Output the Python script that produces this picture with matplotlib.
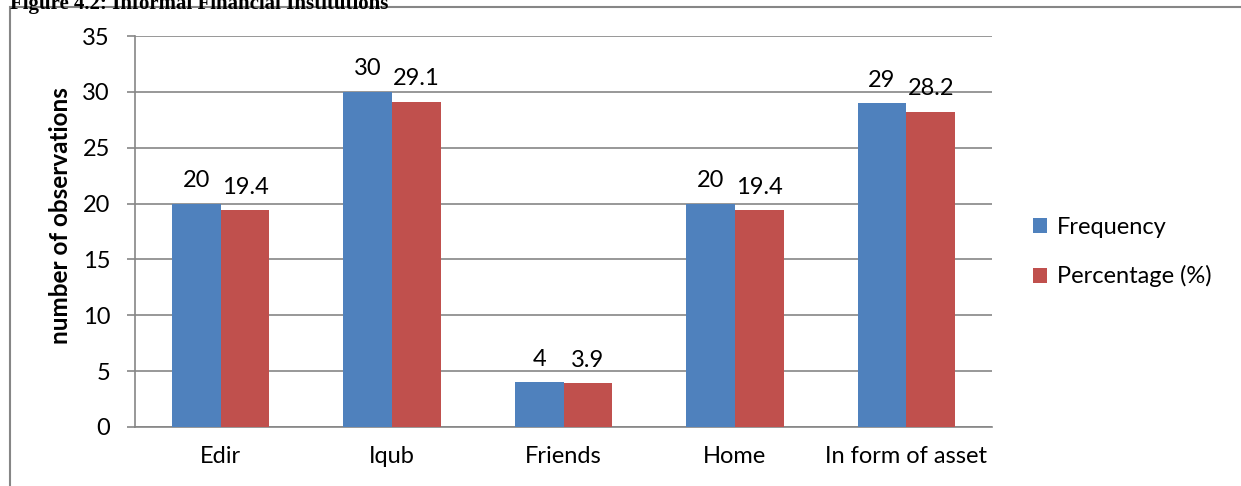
import numpy as np
import matplotlib.pyplot as plt
from matplotlib.patches import Rectangle

# Datos del gráfico
categorias = ['Edir', 'Iqub', 'Friends', 'Home', 'In form of asset']
frecuencia = [20, 30, 4, 20, 29]
porcentaje = [19.4, 29.1, 3.9, 19.4, 28.2]
etiquetas_frec = ['20', '30', '4', '20', '29']
etiquetas_porc = ['19.4', '29.1', '3.9', '19.4', '28.2']
series = ['Frequency', 'Percentage (%)']

azul = '#4F81BD'
rojo = '#C0504D'
gris = '#868686'
fs = 17

plt.rcParams['font.family'] = ['Lato', 'DejaVu Sans']

fig = plt.figure(figsize=(12.41, 4.86), dpi=100)
ax = fig.add_axes([0.1088, 0.1214, 0.6906, 0.8045])

x = np.arange(len(categorias))
w = 0.284
b1 = ax.bar(x - w / 2, frecuencia, w, color=azul, label=series[0], zorder=3)
b2 = ax.bar(x + w / 2, porcentaje, w, color=rojo, label=series[1], zorder=3)

for rect, txt in zip(b1, etiquetas_frec):
    ax.annotate(txt, (rect.get_x() + rect.get_width() / 2, rect.get_height()),
                xytext=(0, 9), textcoords='offset points', ha='center', va='bottom', fontsize=fs)
for rect, txt in zip(b2, etiquetas_porc):
    ax.annotate(txt, (rect.get_x() + rect.get_width() / 2, rect.get_height()),
                xytext=(0, 9), textcoords='offset points', ha='center', va='bottom', fontsize=fs)

ax.set_xlim(-0.5, len(categorias) - 0.5)
ax.set_ylim(0, 35)
ax.set_yticks(range(0, 36, 5))
ax.set_xticks(x)
ax.set_xticklabels(categorias)
ax.tick_params(axis='x', length=0, labelsize=fs, pad=14)
ax.tick_params(axis='y', length=6, width=1.2, color=gris, labelsize=fs, pad=12)
ax.yaxis.grid(True, color=gris, linewidth=1.2, zorder=0)
for s in ['top', 'right']:
    ax.spines[s].set_visible(False)
ax.spines['left'].set_color(gris)
ax.spines['bottom'].set_color(gris)
ax.spines['left'].set_linewidth(1.2)
ax.spines['bottom'].set_linewidth(1.2)
ax.set_ylabel('number of observations', fontsize=17.5, fontweight='bold')
ax.yaxis.set_label_coords(-0.0735, 0.54)

ax.legend(loc='center left', bbox_to_anchor=(1.023, 0.447), frameon=False, fontsize=fs,
          handlelength=0.6, handleheight=0.6, handletextpad=0.4, labelspacing=1.15)

# Marco exterior y título cortado
fig.patches.append(Rectangle((10 / 1241, -0.1), 1.2, 1.1 - 7 / 486, transform=fig.transFigure,
                             fill=False, edgecolor=gris, linewidth=1.5))
fig.text(10 / 1241, 1.0 + 0.012, 'Figure 4.2: Informal Financial Institutions', fontsize=15,
         fontweight='bold', family='Liberation Serif', va='top', ha='left')

fig.savefig('out.png', dpi=100)
